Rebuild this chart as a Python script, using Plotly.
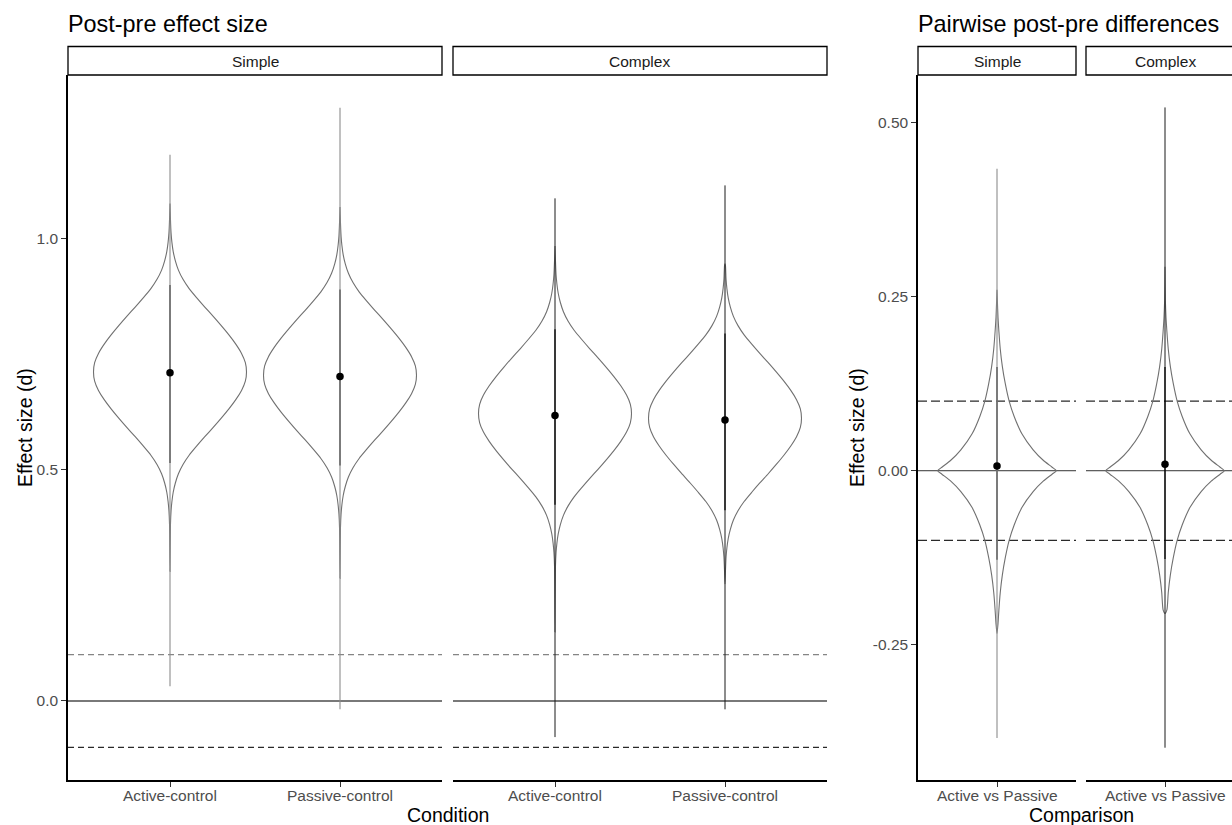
import plotly.graph_objects as go

# ---------------------------------------------------------------- data
conditions = ["Active-control", "Passive-control"]
comparisons = ["Active vs Passive"]
panels = ["Simple", "Complex"]

# Post-pre effect size (d): posterior median, inner and outer intervals
simple_median = [0.709, 0.701]
simple_inner_lo = [0.514, 0.509]
simple_inner_hi = [0.899, 0.889]
simple_outer_lo = [0.032, -0.018]
simple_outer_hi = [1.180, 1.282]
simple_mode = [0.711, 0.704]
simple_tail_lo = [0.280, 0.265]
simple_tail_hi = [1.075, 1.067]

complex_median = [0.617, 0.607]
complex_inner_lo = [0.424, 0.412]
complex_inner_hi = [0.803, 0.794]
complex_outer_lo = [-0.078, -0.018]
complex_outer_hi = [1.086, 1.114]
complex_mode = [0.621, 0.611]
complex_tail_lo = [0.149, 0.253]
complex_tail_hi = [0.983, 0.945]

# Pairwise post-pre differences (Active vs Passive), Simple / Complex
diff_median = [0.0067, 0.0092]
diff_inner_lo = [-0.128, -0.127]
diff_inner_hi = [0.149, 0.149]
diff_outer_lo = [-0.384, -0.398]
diff_outer_hi = [0.434, 0.522]
diff_mode = [0.0, 0.0]
diff_tail_lo = [-0.234, -0.205]
diff_tail_hi = [0.260, 0.293]

# Relative violin width by distance from the mode
effect_density_offset = [0.0, 0.02, 0.04, 0.06, 0.08, 0.10, 0.12, 0.14, 0.16,
                         0.18, 0.20, 0.22, 0.24, 0.26, 0.28, 0.30, 0.33]
effect_density_width = [1.0, 0.985, 0.935, 0.86, 0.77, 0.67, 0.565, 0.455,
                        0.35, 0.25, 0.17, 0.11, 0.07, 0.042, 0.025, 0.014,
                        0.006]
diff_density_offset = [0.0, 0.005, 0.015, 0.03, 0.053, 0.078, 0.10, 0.125,
                       0.15, 0.175, 0.20, 0.22, 0.245]
diff_density_width = [1.0, 0.93, 0.78, 0.61, 0.42, 0.29, 0.205, 0.14,
                      0.09, 0.055, 0.032, 0.017, 0.006]

ref_solid = [0.0]
ref_dashed = [0.1, -0.1]

# ---------------------------------------------------------------- layout
W, H = 1232, 825
FONT = "Liberation Sans, Arial, sans-serif"
VIOLIN_HALF = 0.45


def fx(p):
    return p / W


def fy(p):
    return 1 - p / H


panel_top, panel_bottom = 75, 780
ydom = [fy(panel_bottom), fy(panel_top)]

fig = go.Figure()


def violin_outline(center, mode, lo, hi, offs, widths):
    up_y, up_w = [], []
    for d, w in zip(offs, widths):
        if mode + d < hi:
            up_y.append(mode + d)
            up_w.append(w)
    up_y.append(hi)
    up_w.append(0.0)
    dn_y, dn_w = [], []
    for d, w in zip(offs, widths):
        if mode - d > lo:
            dn_y.append(mode - d)
            dn_w.append(w)
    dn_y.append(lo)
    dn_w.append(0.0)
    ys = dn_y[::-1] + up_y[1:]
    ws = dn_w[::-1] + up_w[1:]
    xs = [center + VIOLIN_HALF * w for w in ws] + \
         [center - VIOLIN_HALF * w for w in ws[::-1]]
    return xs, ys + ys[::-1]


def add_group(xa, ya, positions, mode, tlo, thi, olo, ohi, ilo, ihi, med,
              offs, widths, outer, inner):
    for i, c in enumerate(positions):
        vx, vy = violin_outline(c, mode[i], tlo[i], thi[i], offs, widths)
        fig.add_trace(go.Scatter(x=vx, y=vy, mode="lines", xaxis=xa, yaxis=ya,
                                 line=dict(color="#707070", width=1.1,
                                           shape="spline", smoothing=0.6),
                                 hoverinfo="skip"))
        fig.add_trace(go.Scatter(x=[c, c], y=[olo[i], ohi[i]], mode="lines",
                                 xaxis=xa, yaxis=ya,
                                 line=dict(color=outer[0], width=outer[1]),
                                 hoverinfo="skip"))
        fig.add_trace(go.Scatter(x=[c, c], y=[ilo[i], ihi[i]], mode="lines",
                                 xaxis=xa, yaxis=ya,
                                 line=dict(color=inner[0], width=inner[1]),
                                 hoverinfo="skip"))
        fig.add_trace(go.Scatter(x=[c], y=[med[i]], mode="markers",
                                 xaxis=xa, yaxis=ya,
                                 marker=dict(color="black", size=7.5),
                                 hoverinfo="skip"))


pos_left = [1, 2]
pos_right = [1]
grey_outer, grey_inner = ("#8c8c8c", 1.1), ("#6a6a6a", 1.6)
dark_outer, dark_inner = ("#1a1a1a", 1.0), ("#000000", 1.2)

add_group("x", "y", pos_left, simple_mode, simple_tail_lo, simple_tail_hi,
          simple_outer_lo, simple_outer_hi, simple_inner_lo, simple_inner_hi,
          simple_median, effect_density_offset, effect_density_width,
          grey_outer, grey_inner)
add_group("x2", "y", pos_left, complex_mode, complex_tail_lo, complex_tail_hi,
          complex_outer_lo, complex_outer_hi, complex_inner_lo,
          complex_inner_hi, complex_median, effect_density_offset,
          effect_density_width, dark_outer, dark_inner)
add_group("x3", "y2", pos_right, [diff_mode[0]], [diff_tail_lo[0]],
          [diff_tail_hi[0]], [diff_outer_lo[0]], [diff_outer_hi[0]],
          [diff_inner_lo[0]], [diff_inner_hi[0]], [diff_median[0]],
          diff_density_offset, diff_density_width, grey_outer, grey_inner)
add_group("x4", "y2", pos_right, [diff_mode[1]], [diff_tail_lo[1]],
          [diff_tail_hi[1]], [diff_outer_lo[1]], [diff_outer_hi[1]],
          [diff_inner_lo[1]], [diff_inner_hi[1]], [diff_median[1]],
          diff_density_offset, diff_density_width, dark_outer, dark_inner)

# reference lines
for xr in ("x", "x2"):
    for v in ref_solid:
        fig.add_shape(type="line", xref=f"{xr} domain", yref="y", x0=0, x1=1,
                      y0=v, y1=v, layer="below",
                      line=dict(color="#4d4d4d", width=1.3))
    fig.add_shape(type="line", xref=f"{xr} domain", yref="y", x0=0, x1=1,
                  y0=ref_dashed[0], y1=ref_dashed[0], layer="below",
                  line=dict(color="#858585", width=1.3, dash="6px,4px"))
    fig.add_shape(type="line", xref=f"{xr} domain", yref="y", x0=0, x1=1,
                  y0=ref_dashed[1], y1=ref_dashed[1], layer="below",
                  line=dict(color="#2a2a2a", width=1.3, dash="6px,4px"))
for xr in ("x3", "x4"):
    for v in ref_solid:
        fig.add_shape(type="line", xref=f"{xr} domain", yref="y2", x0=0, x1=1,
                      y0=v, y1=v, layer="below",
                      line=dict(color="#333333", width=1))
    for v in ref_dashed:
        fig.add_shape(type="line", xref=f"{xr} domain", yref="y2", x0=0,
                      x1=1, y0=v, y1=v, layer="below",
                      line=dict(color="#2a2a2a", width=1.2, dash="9px,4px"))

# facet strips
strips = [(68, 442, panels[0]), (453, 827, panels[1]),
          (918, 1076, panels[0]), (1086, 1244, panels[1])]
for x0, x1, label in strips:
    fig.add_shape(type="rect", xref="paper", yref="paper",
                  x0=fx(x0), x1=fx(x1), y0=fy(75), y1=fy(46.5),
                  line=dict(color="black", width=1.3), fillcolor="white")
    fig.add_annotation(x=fx((x0 + x1) / 2), y=fy(61), xref="paper",
                       yref="paper", text=label, showarrow=False,
                       xanchor="center", yanchor="middle",
                       font=dict(size=15.5, color="#1a1a1a", family=FONT))

# category labels under each panel
tickfont = dict(size=15.5, color="#4d4d4d", family=FONT)
for xa, cats in (("x", conditions), ("x2", conditions),
                 ("x3", comparisons), ("x4", comparisons)):
    for i, lab in enumerate(cats):
        fig.add_annotation(x=i + 1, xref=xa, y=fy(795), yref="paper",
                           text=lab, showarrow=False, xanchor="center",
                           yanchor="middle", font=tickfont)

# titles
titles = [(68, "Post-pre effect size"), (918, "Pairwise post-pre differences")]
for x0, t in titles:
    fig.add_annotation(x=fx(x0 - 2), y=fy(24), xref="paper", yref="paper",
                       text=t, showarrow=False, xanchor="left",
                       yanchor="middle",
                       font=dict(size=23.4, color="black", family=FONT))

axis_titles = [(447.5, "Condition"), (1081, "Comparison")]
for xc, t in axis_titles:
    fig.add_annotation(x=fx(xc), y=fy(815), xref="paper", yref="paper",
                       text=t, showarrow=False, xanchor="center",
                       yanchor="middle", borderpad=0,
                       font=dict(size=19.5, color="black", family=FONT))
for xc in (24.5, 856.5):
    fig.add_annotation(x=fx(xc), y=fy(427.5), xref="paper", yref="paper",
                       text="Effect size (d)", showarrow=False, textangle=-90,
                       xanchor="center", yanchor="middle",
                       font=dict(size=19.5, color="black", family=FONT))

common_x = dict(showline=True, linecolor="black", linewidth=1.5,
                ticks="outside", ticklen=5, tickcolor="#333333", tickwidth=1.2,
                showticklabels=False, showgrid=False, zeroline=False,
                fixedrange=True)
common_y = dict(showline=True, linecolor="black", linewidth=1.5,
                ticks="outside", ticklen=5, tickcolor="#333333", tickwidth=1.2,
                tickfont=tickfont, showgrid=False, zeroline=False,
                fixedrange=True, domain=ydom)

fig.update_layout(
    width=W, height=H,
    margin=dict(l=0, r=0, t=0, b=0),
    paper_bgcolor="white", plot_bgcolor="white",
    showlegend=False,
    font=dict(family=FONT),
    xaxis=dict(common_x, domain=[fx(68), fx(442)], range=[0.4, 2.6],
               tickvals=pos_left, anchor="y"),
    xaxis2=dict(common_x, domain=[fx(453), fx(827)], range=[0.4, 2.6],
                tickvals=pos_left, anchor="y"),
    xaxis3=dict(common_x, domain=[fx(918), fx(1076)], range=[0.4, 1.6],
                tickvals=pos_right, anchor="y2"),
    xaxis4=dict(common_x, domain=[fx(1086), 1.0],
                range=[0.4, 0.4 + 146 / 131.67],
                tickvals=pos_right, anchor="y2"),
    yaxis=dict(common_y, range=[-0.1707, 1.3525], tickvals=[0, 0.5, 1.0],
               ticktext=["0.0", "0.5", "1.0"], anchor="x"),
    yaxis2=dict(common_y, range=[-0.4444, 0.5686],
                tickvals=[-0.25, 0, 0.25, 0.5],
                ticktext=["-0.25", "0.00", "0.25", "0.50"], anchor="x3"),
)

fig.write_html("out.html")
